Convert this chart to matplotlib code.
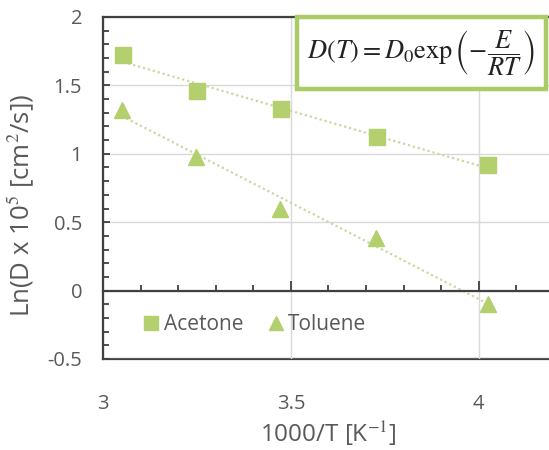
import numpy as np
import matplotlib.pyplot as plt
from matplotlib.ticker import MultipleLocator
from matplotlib.patches import Rectangle

# dati
inv_T = [3.054, 3.251, 3.473, 3.728, 4.025]
acetone = [1.72, 1.46, 1.33, 1.12, 0.915]
inv_T_tol = [3.050, 3.247, 3.471, 3.726, 4.025]
toluene = [1.32, 0.98, 0.60, 0.385, -0.10]

green = '#b3cf6e'
trend = '#c9d8a4'
dark = '#404040'
gray_txt = '#595959'

plt.rcParams['font.family'] = ['Open Sans', 'DejaVu Sans']
plt.rcParams['mathtext.fontset'] = 'stix'

fig = plt.figure(figsize=(5.49, 4.5), dpi=100)
ax = fig.add_axes([103 / 549, 1 - 359 / 450, 451 / 549, 342 / 450])

# linee di tendenza (fit lineare)
for xs, ys in [(inv_T, acetone), (inv_T_tol, toluene)]:
    p = np.polyfit(xs, ys, 1)
    xx = np.array([min(xs), max(xs)])
    ax.plot(xx, np.polyval(p, xx), color=trend, lw=1.6, linestyle=(0, (1, 1.3)), zorder=2)

ax.plot(inv_T, acetone, 's', color=green, markersize=11, label='Acetone', zorder=3)
ax.plot(inv_T_tol, toluene, '^', color=green, markersize=11, label='Toluene', zorder=3)

ax.set_xlim(3, 4.2)
ax.set_ylim(-0.5, 2)

# asse x che incrocia a 0
ax.spines['bottom'].set_position(('data', 0))
ax.spines['right'].set_visible(False)
for s in ['bottom', 'left', 'top']:
    ax.spines[s].set_color(dark)
    ax.spines[s].set_linewidth(1.6)

ax.xaxis.set_major_locator(MultipleLocator(0.5))
ax.xaxis.set_minor_locator(MultipleLocator(0.1))
ax.yaxis.set_major_locator(MultipleLocator(0.5))
ax.yaxis.set_minor_locator(MultipleLocator(0.1))
ax.tick_params(axis='x', which='both', direction='in', labelbottom=False, color=dark, width=1.3)
ax.tick_params(axis='x', which='major', length=7)
ax.tick_params(axis='x', which='minor', length=4)
ax.tick_params(axis='y', which='both', direction='in', color=dark, width=1.3,
               labelsize=14.5, labelcolor=gray_txt, pad=15)
ax.tick_params(axis='y', which='major', length=5)
ax.tick_params(axis='y', which='minor', length=4)
ax.set_yticks([-0.5, 0, 0.5, 1, 1.5, 2])
ax.set_yticklabels(['-0.5', '0', '0.5', '1', '1.5', '2'])

ax.grid(True, which='major', color='#d9d9d9', lw=1)

# etichette in basso
secax = ax.secondary_xaxis('bottom')
secax.set_xticks([3, 3.5, 4])
secax.set_xticklabels(['3', '3.5', '4'])
secax.tick_params(length=0, pad=25, labelsize=14.5, labelcolor=gray_txt)
secax.spines['bottom'].set_color(dark)
secax.spines['bottom'].set_linewidth(1.6)
secax.set_xlabel('1000/T [K$^{-1}$]', fontsize=17.5, color=gray_txt, labelpad=4)

ax.set_ylabel('Ln(D x 10$^5$ [cm$^2$/s])', fontsize=18.5, color=gray_txt, labelpad=2)
ax.yaxis.set_label_coords(-0.148, 0.45)

ax.legend(loc='center left', bbox_to_anchor=(0.04, 0.1), ncol=2, frameon=False,
          fontsize=15, handletextpad=0.05, columnspacing=1.0, markerscale=0.9,
          labelcolor=gray_txt, handlelength=1.1)

# riquadro equazione
fig.patches.append(Rectangle((297 / 549, 1 - 89 / 450), 249 / 549, 72 / 450,
                             transform=fig.transFigure, facecolor='white',
                             edgecolor='#a9cc66', lw=3.2, zorder=5))
fig.text(421 / 549, 1 - 53 / 450,
         r'$D(T) = D_0 \exp\left(-\dfrac{E}{RT}\right)$',
         ha='center', va='center', fontsize=19, color='#222222', zorder=6)

plt.savefig('out.png', dpi=100)
